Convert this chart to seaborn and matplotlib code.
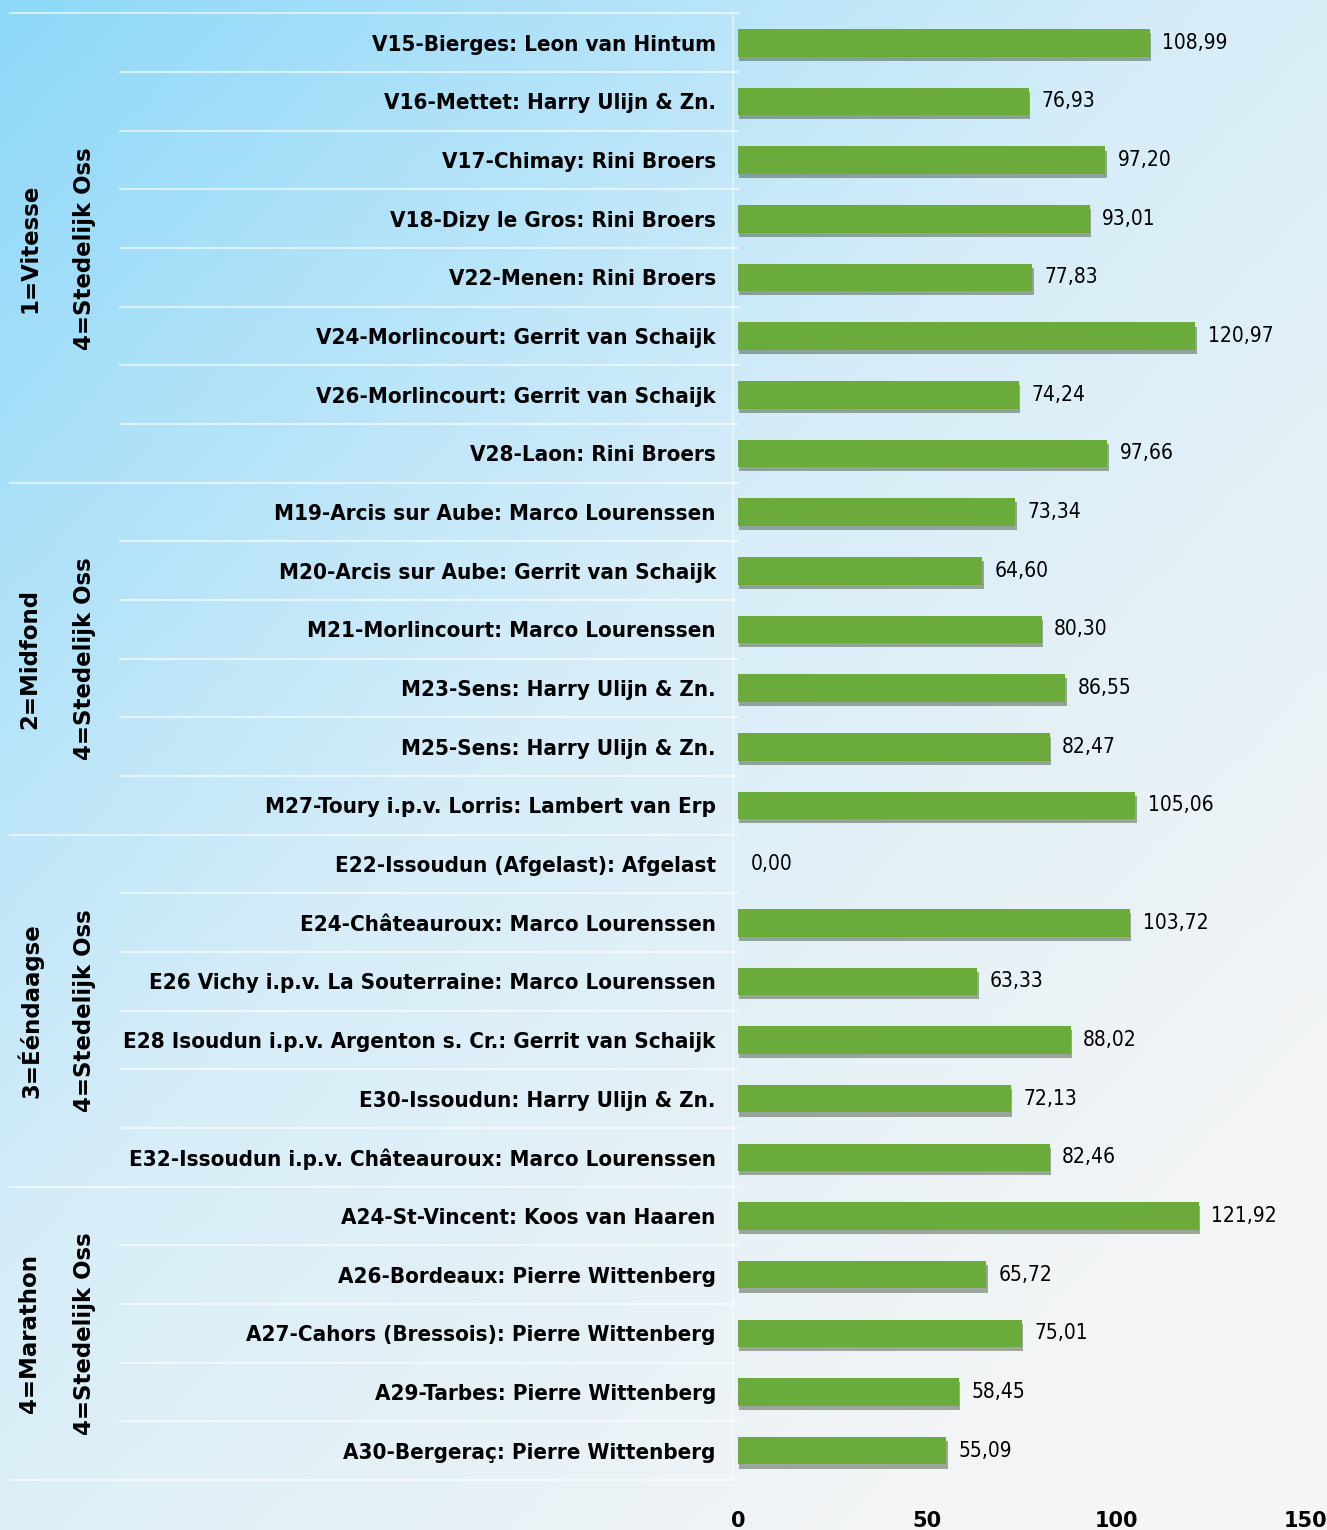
import numpy as np
import pandas as pd
import matplotlib
matplotlib.use("Agg")
import matplotlib.pyplot as plt
import matplotlib.transforms as mtransforms
import matplotlib.patheffects as pe
from matplotlib.colors import LinearSegmentedColormap
import seaborn as sns

# data
flights = ["V15-Bierges: Leon van Hintum", "V16-Mettet: Harry Ulijn & Zn.",
           "V17-Chimay: Rini Broers", "V18-Dizy le Gros: Rini Broers",
           "V22-Menen: Rini Broers", "V24-Morlincourt: Gerrit van Schaijk",
           "V26-Morlincourt: Gerrit van Schaijk", "V28-Laon: Rini Broers",
           "M19-Arcis sur Aube: Marco Lourenssen", "M20-Arcis sur Aube: Gerrit van Schaijk",
           "M21-Morlincourt: Marco Lourenssen", "M23-Sens: Harry Ulijn & Zn.",
           "M25-Sens: Harry Ulijn & Zn.", "M27-Toury i.p.v. Lorris: Lambert van Erp",
           "E22-Issoudun (Afgelast): Afgelast", "E24-Châteauroux: Marco Lourenssen",
           "E26 Vichy i.p.v. La Souterraine: Marco Lourenssen",
           "E28 Isoudun i.p.v. Argenton s. Cr.: Gerrit van Schaijk",
           "E30-Issoudun: Harry Ulijn & Zn.", "E32-Issoudun i.p.v. Châteauroux: Marco Lourenssen",
           "A24-St-Vincent: Koos van Haaren", "A26-Bordeaux: Pierre Wittenberg",
           "A27-Cahors (Bressois): Pierre Wittenberg", "A29-Tarbes: Pierre Wittenberg",
           "A30-Bergeraç: Pierre Wittenberg"]
speeds = [108.99, 76.93, 97.20, 93.01, 77.83, 120.97, 74.24, 97.66,
          73.34, 64.60, 80.30, 86.55, 82.47, 105.06,
          0.00, 103.72, 63.33, 88.02, 72.13, 82.46,
          121.92, 65.72, 75.01, 58.45, 55.09]
groups = ["1=Vitesse", "2=Midfond", "3=Ééndaagse", "4=Marathon"]
group_sizes = [8, 6, 6, 5]
club = "4=Stedelijk Oss"
xticks = [0, 50, 100, 150]

df = pd.DataFrame({"flight": flights, "speed": speeds})

W, H = 1327, 1530
fig = plt.figure(figsize=(W / 100, H / 100), dpi=100)

# gradient background
bg = fig.add_axes([0, 0, 1, 1], zorder=-10)
yy, xx = np.mgrid[0:1:200j, 0:1:200j]
t = np.clip(0.55 * xx + 0.6 * yy, 0, 1)
cmap = LinearSegmentedColormap.from_list("bg", [(0, "#8dd8f9"), (0.5, "#d6edf8"), (1, "#f5f5f5")])
bg.imshow(t, cmap=cmap, aspect="auto", extent=[0, 1, 1, 0], vmin=0, vmax=1)
bg.axis("off")

left, right = 738, 1305
top, bottom = 13.5, 1480
ax = fig.add_axes([left / W, 1 - bottom / H, (right - left) / W, (bottom - top) / H])
ax.patch.set_alpha(0)

sns.barplot(data=df, x="speed", y="flight", orient="h", color="#6aab3c",
            width=0.47, ax=ax, saturation=1)
for bar in ax.patches:
    bar.set_path_effects([pe.SimplePatchShadow(offset=(1, -3), alpha=0.4), pe.Normal()])
ax.bar_label(ax.containers[0], labels=[f"{v:.2f}".replace(".", ",") for v in speeds],
             padding=9, fontsize=15, fontstretch="condensed")

ax.set_xlim(0, 150)
ax.set_ylim(len(flights) - 0.5, -0.5)
ax.set_xticks(xticks)
ax.set_xticklabels([str(v) for v in xticks], fontsize=15, fontweight="bold")
ax.tick_params(axis="x", length=0, pad=22)
ax.tick_params(axis="y", length=0, pad=16)
for lab in ax.get_yticklabels():
    lab.set_fontsize(16)
    lab.set_fontweight("bold")
    lab.set_fontstretch("condensed")
ax.set_xlabel("")
ax.set_ylabel("")
for s in ax.spines.values():
    s.set_visible(False)

# separators and group labels in the label area
tr = mtransforms.blended_transform_factory(ax.transAxes, ax.transData)
bounds = np.cumsum([0] + group_sizes) - 0.5
x_grp = (10 - left) / (right - left)
x_row = (120 - left) / (right - left)
for i in range(len(flights) + 1):
    y = i - 0.5
    x0 = x_grp if y in bounds else x_row
    ax.plot([x0, 0], [y, y], transform=tr, color="white", alpha=0.6, lw=1.5, clip_on=False)
ax.plot([-0.008, -0.008], [-0.5, len(flights) - 0.5], transform=tr, color="white",
        alpha=0.5, lw=1.2, clip_on=False)
for g, lo, hi in zip(groups, bounds[:-1], bounds[1:]):
    yc = (lo + hi) / 2
    ax.text((30 - left) / (right - left), yc, g, transform=tr, rotation=90,
            ha="center", va="center", fontsize=16.5, fontweight="bold")
    ax.text((85 - left) / (right - left), yc, club, transform=tr, rotation=90,
            ha="center", va="center", fontsize=16.5, fontweight="bold")

fig.savefig("out.png", dpi=100)
